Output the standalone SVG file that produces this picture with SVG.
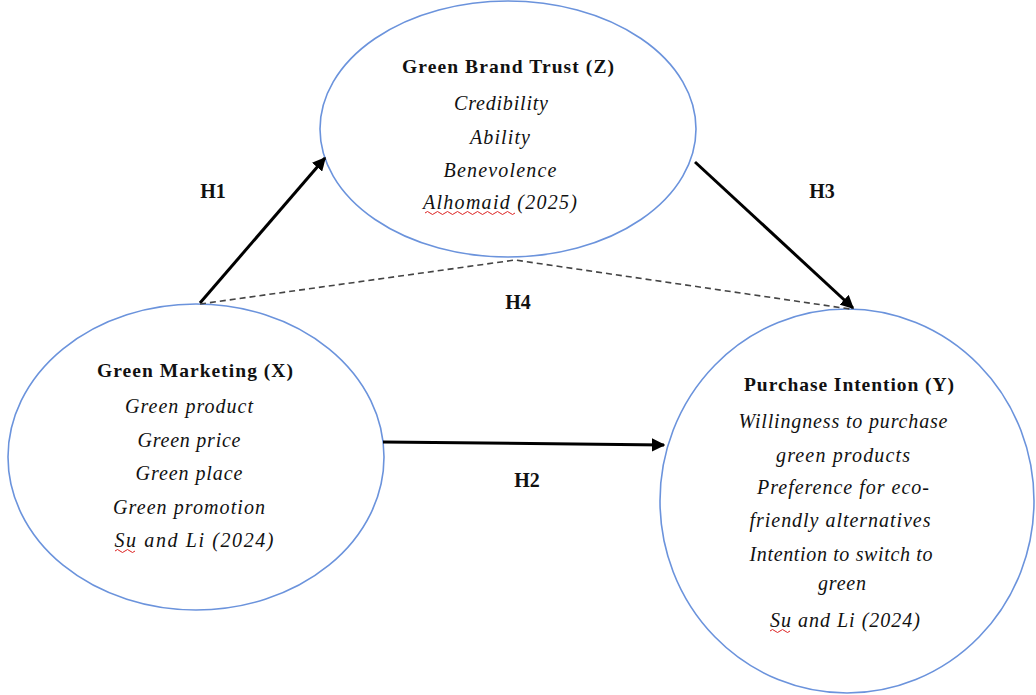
<svg xmlns="http://www.w3.org/2000/svg" width="1036" height="695" viewBox="0 0 1036 695">
<style>
.node{fill:#fff;stroke:#6b93dc;stroke-width:1.6}
.t{font-family:"Liberation Serif","Times New Roman",serif;fill:#111;text-anchor:middle}
.b{font-weight:bold;font-size:19.5px}
.i{font-style:italic;font-size:20px}
.h{font-weight:bold;font-size:20px}
.sol{stroke:#000;stroke-width:3;fill:none}
.dash{stroke:#444;stroke-width:1.6;fill:none;stroke-dasharray:6 4}
.sq{stroke:#d22;stroke-width:1;fill:none}
</style>
<defs>
<marker id="ah" viewBox="0 0 10 10" refX="9" refY="5" markerWidth="4.5" markerHeight="4.5" orient="auto" markerUnits="strokeWidth">
<path d="M0,0 L10,5 L0,10 z" fill="#000"/>
</marker>
</defs>
<rect width="1036" height="695" fill="#fff"/>
<g id="node-Z">
<ellipse class="node" cx="508" cy="129" rx="188" ry="128"/>
<text class="t b" x="508" y="73" textLength="212" lengthAdjust="spacing">Green Brand Trust (Z)</text>
<text class="t i" x="501" y="110" textLength="94" lengthAdjust="spacing">Credibility</text>
<text class="t i" x="500" y="144" textLength="60" lengthAdjust="spacing">Ability</text>
<text class="t i" x="500" y="177" textLength="113" lengthAdjust="spacing">Benevolence</text>
<text class="t i" x="500" y="209" textLength="154" lengthAdjust="spacing">Alhomaid (2025)</text>
<path class="sq" d="M425,213 q2.5,-3 5,0 t5,0 t5,0 t5,0 t5,0 t5,0 t5,0 t5,0 t5,0 t5,0 t5,0 t5,0 t5,0 t5,0 t5,0 t5,0 t5,0 t5,0"/>
</g>
<g id="node-X">
<ellipse class="node" cx="196" cy="457" rx="188" ry="153"/>
<text class="t b" x="195" y="377" textLength="196" lengthAdjust="spacing">Green Marketing (X)</text>
<text class="t i" x="189" y="413" textLength="128" lengthAdjust="spacing">Green product</text>
<text class="t i" x="189" y="447" textLength="103" lengthAdjust="spacing">Green price</text>
<text class="t i" x="189" y="480" textLength="107" lengthAdjust="spacing">Green place</text>
<text class="t i" x="189" y="514" textLength="152" lengthAdjust="spacing">Green promotion</text>
<text class="t i" x="194" y="547" textLength="159" lengthAdjust="spacing">Su and Li (2024)</text>
<path class="sq" d="M115,551 q2.5,-3 5,0 t5,0 t5,0 t5,0"/>
</g>
<g id="node-Y">
<ellipse class="node" cx="847" cy="501" rx="187" ry="192"/>
<text class="t b" x="849" y="391" textLength="210" lengthAdjust="spacing">Purchase Intention (Y)</text>
<text class="t i" x="843" y="428" textLength="209" lengthAdjust="spacing">Willingness to purchase</text>
<text class="t i" x="843" y="462" textLength="134" lengthAdjust="spacing">green products</text>
<text class="t i" x="843" y="494" textLength="172" lengthAdjust="spacing">Preference for eco-</text>
<text class="t i" x="840" y="527" textLength="181" lengthAdjust="spacing">friendly alternatives</text>
<text class="t i" x="841" y="561" textLength="183" lengthAdjust="spacing">Intention to switch to</text>
<text class="t i" x="842" y="590" textLength="48" lengthAdjust="spacing">green</text>
<text class="t i" x="845" y="627" textLength="150" lengthAdjust="spacing">Su and Li (2024)</text>
<path class="sq" d="M770,631 q2.5,-3 5,0 t5,0 t5,0 t5,0"/>
</g>
<g id="connectors">
<line class="sol" x1="200" y1="303" x2="325" y2="158" marker-end="url(#ah)"/>
<line class="sol" x1="695" y1="162" x2="853" y2="308" marker-end="url(#ah)"/>
<line class="sol" x1="383" y1="442" x2="664" y2="445" marker-end="url(#ah)"/>
<polyline class="dash" points="200,304 515,260 850,309"/>
</g>
<g id="labels">
<text class="t h" x="213" y="198">H1</text>
<text class="t h" x="822" y="198">H3</text>
<text class="t h" x="518" y="309">H4</text>
<text class="t h" x="527" y="487">H2</text>
</g>
</svg>
